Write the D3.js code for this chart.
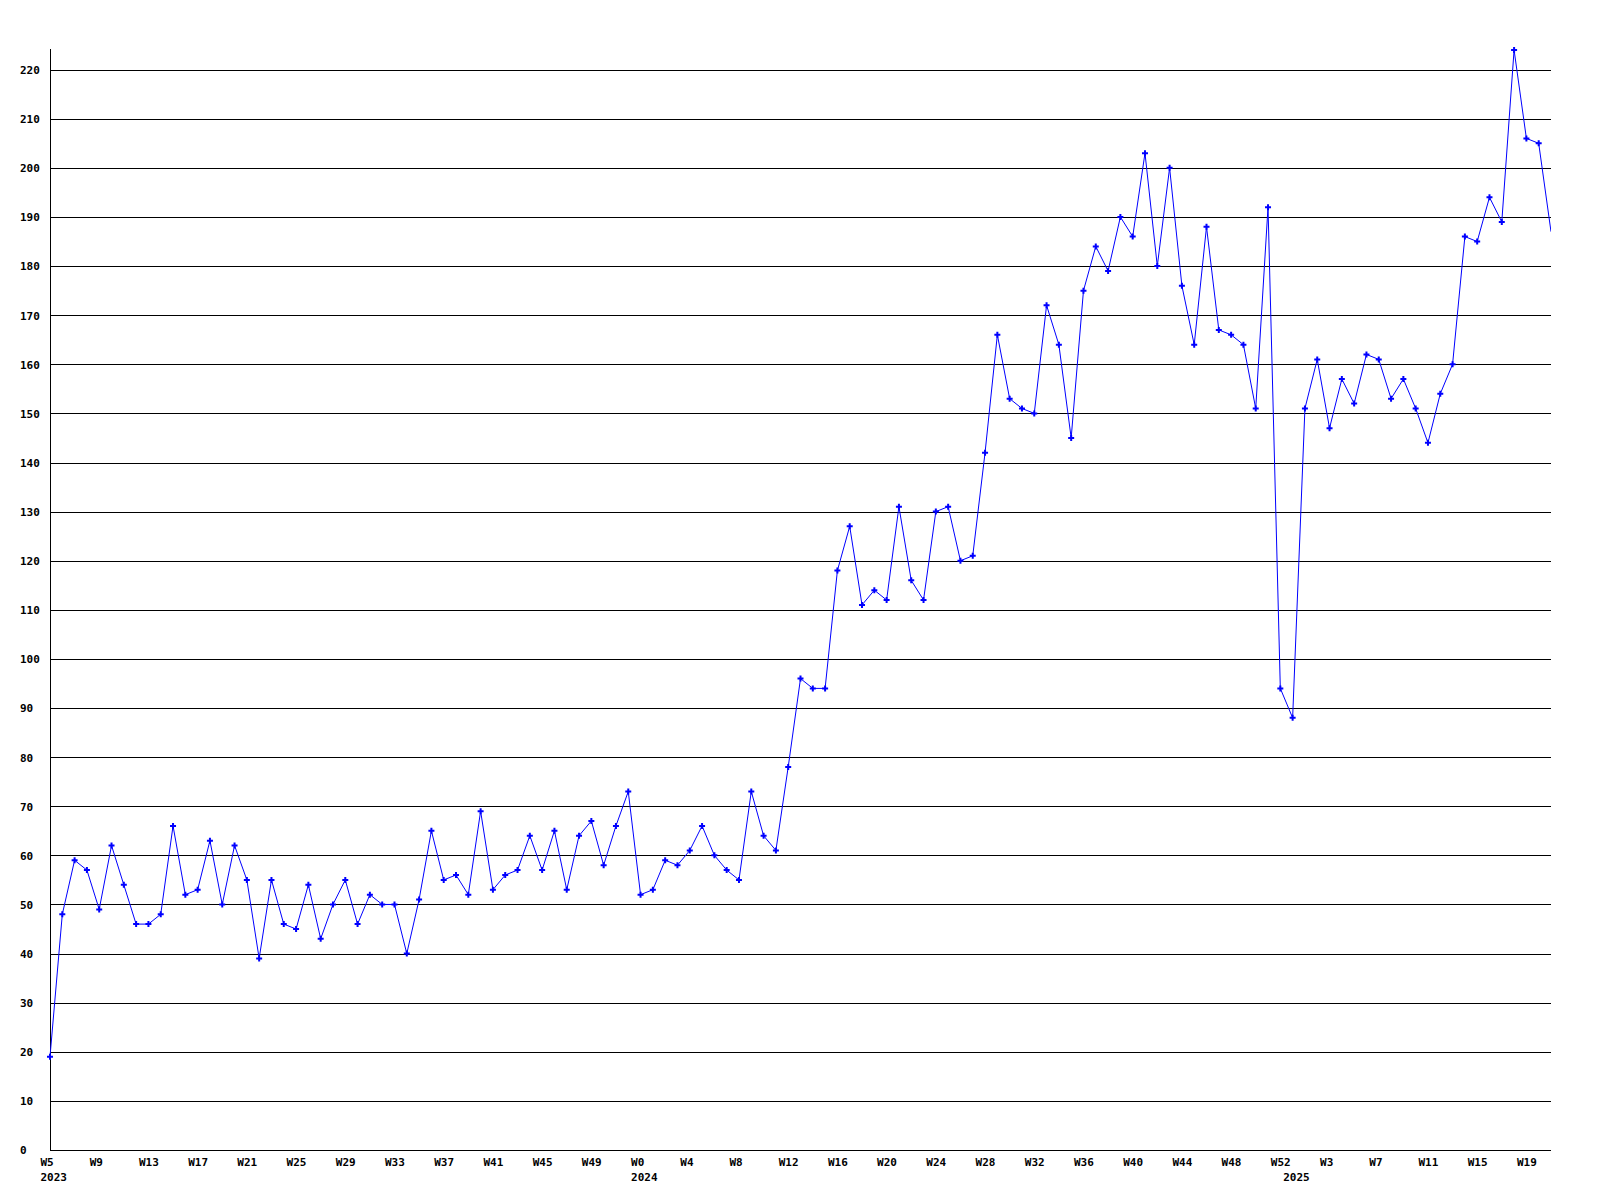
<!DOCTYPE html>
<html>
<head>
<meta charset="utf-8">
<script src="https://cdn.jsdelivr.net/npm/d3@7/dist/d3.min.js"></script>
<style>
  html, body { margin: 0; padding: 0; background: #ffffff; }
  svg { display: block; }
  text { font-family: "DejaVu Sans Mono", "Liberation Mono", monospace; font-weight: bold; font-size: 11px; fill: #000; }
</style>
</head>
<body>
<svg id="chart" width="1600" height="1200"></svg>
<script>
// ---- Data (weekly values, 2023 W5 .. 2025 W21) ----
const values = [
  19, 48, 59, 57, 49, 62, 54, 46, 46, 48,
  66, 52, 53, 63, 50, 62, 55, 39, 55, 46,
  45, 54, 43, 50, 55, 46, 52, 50, 50, 40,
  51, 65, 55, 56, 52, 69, 53, 56, 57, 64,
  57, 65, 53, 64, 67, 58, 66, 73, 52, 53,
  59, 58, 61, 66, 60, 57, 55, 73, 64, 61,
  78, 96, 94, 94, 118, 127, 111, 114, 112, 131,
  116, 112, 130, 131, 120, 121, 142, 166, 153, 151,
  150, 172, 164, 145, 175, 184, 179, 190, 186, 203,
  180, 200, 176, 164, 188, 167, 166, 164, 151, 192,
  94, 88, 151, 161, 147, 157, 152, 162, 161, 153,
  157, 151, 144, 154, 160, 186, 185, 194, 189, 224,
  206, 205, 187
];

// x tick labels (week labels) and the point index they sit on
const weekTickIndex = [0, 4, 8, 12, 16, 20, 24, 28, 32, 36, 40, 44,
                       48, 52, 56, 60, 64, 68, 72, 76, 80, 84, 88, 92, 96, 100,
                       104, 108, 112, 116, 120];
const weekTickLabels = ["W5", "W9", "W13", "W17", "W21", "W25", "W29", "W33", "W37", "W41", "W45", "W49",
                        "W0", "W4", "W8", "W12", "W16", "W20", "W24", "W28", "W32", "W36", "W40", "W44", "W48", "W52",
                        "W3", "W7", "W11", "W15", "W19"];
// year labels and the index of the first week of that year
const yearTickIndex = [0, 48, 101];
const yearTickLabels = ["2023", "2024", "2025"];

// y ticks
const yTicks = [0, 10, 20, 30, 40, 50, 60, 70, 80, 90, 100, 110, 120, 130, 140, 150, 160, 170, 180, 190, 200, 210, 220];

(function () {
  // ---- Layout ----
  const mLeft = 50, mRight = 1551, mTop = 50, mBottom = 1150;

  const svg = d3.select("#chart");

  const x = d3.scaleLinear().domain([0, values.length - 1]).range([mLeft, mRight]);
  const y = d3.scaleLinear().domain([0, d3.max(values)]).range([mBottom, mTop]);

  // gridlines + y labels
  const yAxis = d3.axisLeft(y)
    .tickValues(yTicks)
    .tickFormat(d3.format("d"))
    .tickSizeInner(-(mRight - mLeft))
    .tickSizeOuter(0)
    .tickPadding(0);

  const gy = svg.append("g")
    .attr("transform", `translate(${mLeft},0)`)
    .call(yAxis);
  gy.select(".domain").remove();
  gy.selectAll(".tick line")
    .attr("stroke", "#000")
    .attr("stroke-width", 1)
    .attr("shape-rendering", "crispEdges");
  gy.selectAll(".tick text")
    .attr("text-anchor", "start")
    .attr("x", 20 - mLeft)
    .attr("dy", "0.35em");
  gy.attr("font-family", null).attr("font-size", null);

  // y axis line
  svg.append("line")
    .attr("x1", mLeft).attr("x2", mLeft)
    .attr("y1", mTop - 1).attr("y2", mBottom)
    .attr("stroke", "#000")
    .attr("stroke-width", 1)
    .attr("shape-rendering", "crispEdges");

  // x axis week labels
  const xAxis = d3.axisBottom(x)
    .tickValues(weekTickIndex)
    .tickFormat((d, i) => weekTickLabels[i])
    .tickSize(0)
    .tickPadding(0);
  const gx = svg.append("g")
    .attr("transform", `translate(0,${mBottom})`)
    .call(xAxis);
  gx.select(".domain").remove();
  gx.selectAll(".tick text")
    .attr("text-anchor", "start")
    .attr("x", -10)
    .attr("y", 12)
    .attr("dy", "0.35em");
  gx.attr("font-family", null).attr("font-size", null);

  // x axis year labels
  const yearAxis = d3.axisBottom(x)
    .tickValues(yearTickIndex)
    .tickFormat((d, i) => yearTickLabels[i])
    .tickSize(0)
    .tickPadding(0);
  const gyear = svg.append("g")
    .attr("transform", `translate(0,${mBottom})`)
    .call(yearAxis);
  gyear.select(".domain").remove();
  gyear.selectAll(".tick text")
    .attr("text-anchor", "start")
    .attr("x", -10)
    .attr("y", 27)
    .attr("dy", "0.35em");
  gyear.attr("font-family", null).attr("font-size", null);

  // clip for plot area
  svg.append("clipPath").attr("id", "plotclip")
    .append("rect")
    .attr("x", mLeft - 4).attr("y", mTop - 6)
    .attr("width", mRight - mLeft + 4).attr("height", mBottom - mTop + 10);

  const plot = svg.append("g").attr("clip-path", "url(#plotclip)");

  const line = d3.line()
    .x((d, i) => x(i))
    .y(d => y(d));

  plot.append("path")
    .datum(values)
    .attr("fill", "none")
    .attr("stroke", "#0000ff")
    .attr("stroke-width", 1)
    .attr("d", line);

  // markers (last, incomplete point has none)
  const markerSym = d3.symbol().type(d3.symbolCross).size(20);
  plot.selectAll("path.marker")
    .data(values.slice(0, values.length - 1))
    .enter()
    .append("path")
    .attr("class", "marker")
    .attr("d", markerSym)
    .attr("transform", (d, i) => `translate(${x(i)},${y(d)})`)
    .attr("fill", "#0000ff");
})();
</script>
</body>
</html>
